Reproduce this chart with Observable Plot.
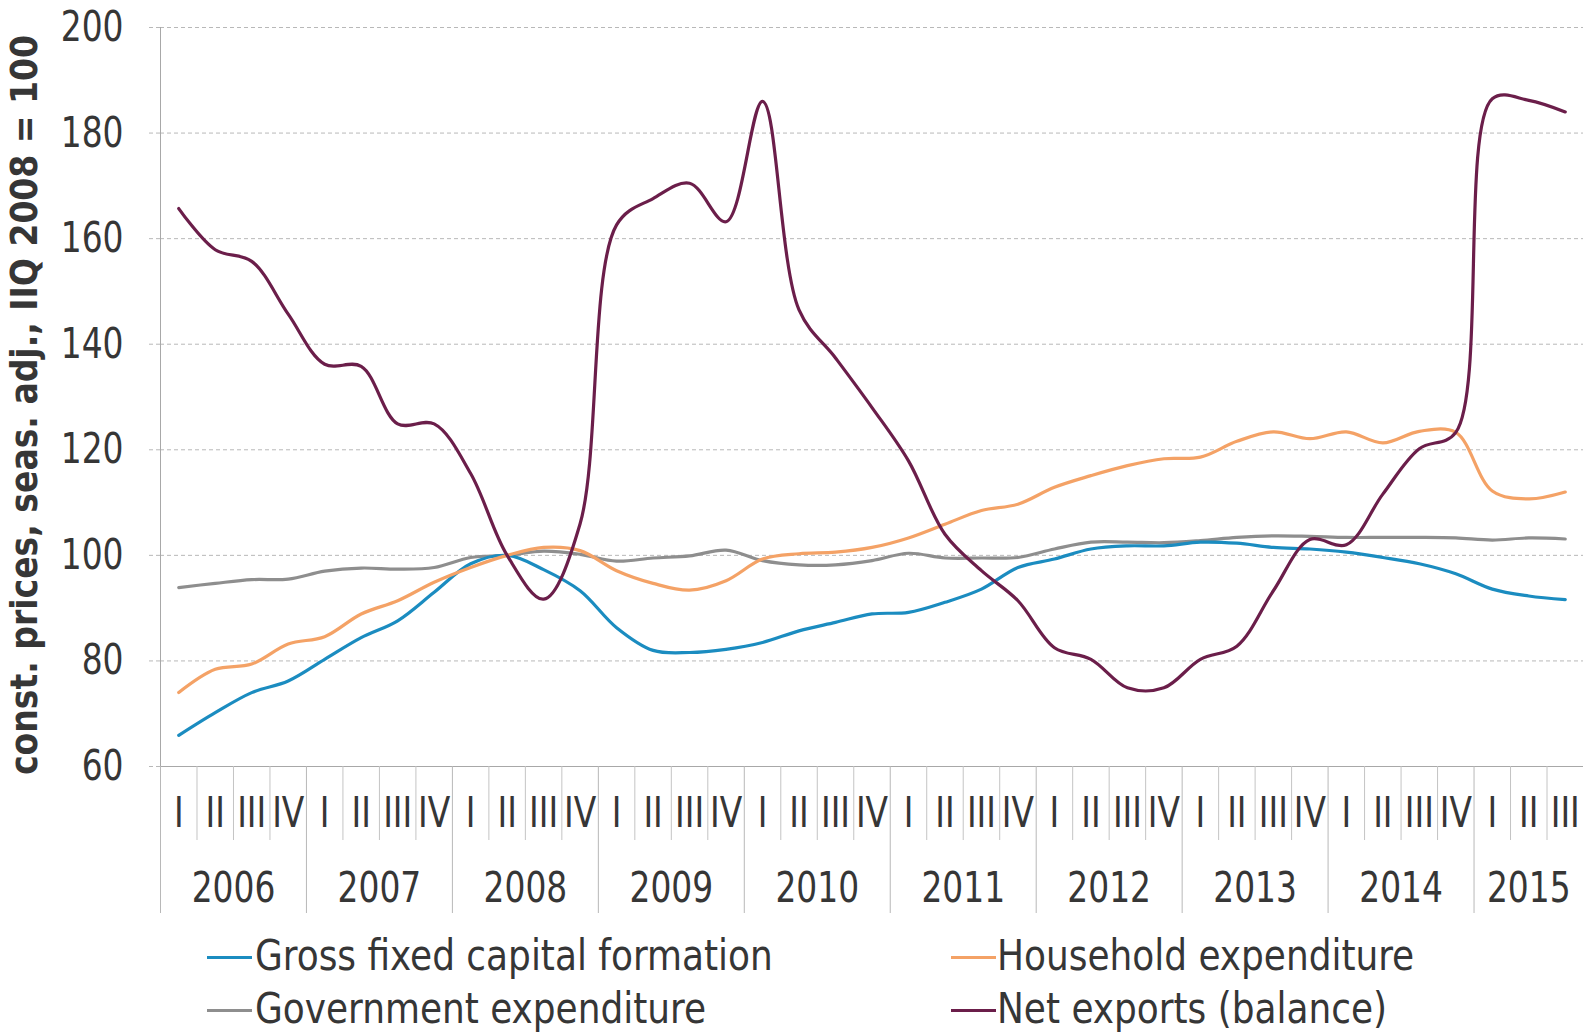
<!DOCTYPE html>
<html>
<head>
<meta charset="utf-8">
<script src="https://cdn.jsdelivr.net/npm/d3@7"></script>
<script src="https://cdn.jsdelivr.net/npm/@observablehq/plot@0.6"></script>
<style>
  html, body { margin: 0; padding: 0; background: #fff; }
  #wrap { position: relative; width: 1583px; height: 1033px; overflow: hidden;
          font-family: 'Liberation Sans Narrow', 'DejaVu Sans Condensed', 'Open Sans', sans-serif; color: #363636; }
  .leg { position: absolute; font-size: 42px; line-height: 1; white-space: nowrap; transform: scaleX(0.95); transform-origin: 0 50%; }
  .sw { position: absolute; height: 3px; width: 45px; }
</style>
</head>
<body>
<div id="wrap"></div>
<script>
const years = ["2006","2007","2008","2009","2010","2011","2012","2013","2014","2015"];
const quarterLabels = ["I","II","III","IV"];
const seriesNames = ["Gross fixed capital formation","Household expenditure","Government expenditure","Net exports (balance)"];
const seriesColors = ["#1b8cc0","#f4a266","#8e8e8e","#6b1e4a"];

// quarterly values, 2006 Q1 .. 2015 Q3 (39 quarters)
const gfcf = [65.9,70.2,74.0,76.2,80.3,84.4,87.6,93.0,98.4,100.0,97.3,93.3,86.3,82.0,81.6,82.2,83.5,85.7,87.3,88.9,89.2,91.1,93.6,97.7,99.3,101.2,101.8,101.8,102.5,102.3,101.5,101.2,100.6,99.6,98.4,96.5,93.6,92.3,91.6];
const household = [74.0,78.4,79.4,83.2,84.6,88.9,91.4,94.9,97.7,100.0,101.5,100.9,97.1,94.7,93.4,95.2,99.3,100.3,100.6,101.5,103.3,105.9,108.5,109.7,112.9,115.1,117.0,118.3,118.6,121.6,123.4,122.1,123.4,121.3,123.5,123.3,112.2,110.7,112.0];
const government = [93.9,94.7,95.4,95.5,97.0,97.6,97.4,97.7,99.6,100.0,100.8,100.2,98.9,99.5,99.9,101.0,99.0,98.2,98.2,99.0,100.4,99.5,99.5,99.6,101.2,102.5,102.5,102.4,102.8,103.4,103.7,103.6,103.4,103.4,103.4,103.3,102.9,103.3,103.1];
const netExports = [165.7,157.9,155.7,145.7,136.2,135.8,124.9,124.9,115.5,100.0,91.7,106.0,162.6,167.6,170.5,163.2,186.0,146.5,137.4,128.0,117.9,104.0,97.1,91.4,82.5,80.3,74.9,74.9,80.3,82.8,93.3,103.0,102.0,111.6,120.2,123.3,186.5,186.2,184.0];
const yTicks = [60,80,100,120,140,160,180,200];
const yLabel = "const. prices, seas. adj., IIQ 2008 = 100";

const allSeries = [gfcf, household, government, netExports];
const drawOrder = [2, 0, 1, 3];
const rows = [];
for (const s of drawOrder) allSeries[s].forEach((v, i) => rows.push({q: i, value: v, series: seriesNames[s]}));

const nQ = gfcf.length;
const qIdx = d3.range(nQ);
const yearBounds = years.map((y, k) => 4 * k - 0.5);
const qBounds = d3.range(nQ - 1).map(i => i + 0.5).filter(b => (b + 0.5) % 4 !== 0);
const yearCenters = years.map((y, k) => (4 * k - 0.5 + Math.min(4 * k + 3, nQ - 1) + 0.5) / 2);

const fontStack = "'Liberation Sans Narrow', 'DejaVu Sans Condensed', 'Open Sans', sans-serif";

const chart = Plot.plot({
  width: 1583,
  height: 930,
  marginLeft: 160,
  marginRight: 0,
  marginTop: 27,
  marginBottom: 164,
  style: {fontFamily: fontStack, fontSize: "42px", color: "#363636", background: "#fff", overflow: "visible"},
  x: {type: "linear", domain: [-0.5, nQ - 0.5]},
  y: {domain: [60, 200]},
  color: {domain: seriesNames, range: seriesColors},
  marks: [
    Plot.gridY(yTicks.slice(1), {stroke: "#b8b8b8", strokeOpacity: 1, strokeDasharray: "4,3"}),
    Plot.axisY({ticks: yTicks, tickSize: 12, tickPadding: 25, stroke: "#b8b8b8", strokeDasharray: "4,3", tickFormat: d => d, label: null, fontSize: 42}),
    Plot.ruleX([-0.5], {stroke: "#a8a8a8"}),
    Plot.ruleY([60], {stroke: "#a8a8a8"}),
    Plot.axisX({ticks: qBounds, tickSize: 74, tickFormat: () => "", stroke: "#c4c4c4", label: null}),
    Plot.axisX({ticks: yearBounds, tickSize: 147, tickFormat: () => "", stroke: "#b8b8b8", label: null}),
    Plot.axisX({ticks: qIdx, tickSize: 0, tickPadding: 31, tickFormat: i => quarterLabels[i % 4], label: null, fontSize: 42}),
    Plot.axisX({ticks: yearCenters, tickSize: 0, tickPadding: 106, tickFormat: (d) => years[yearCenters.indexOf(d)], label: null, fontSize: 42}),
    Plot.text([yLabel], {frameAnchor: "left", textAnchor: "middle", dx: -136, dy: 8, rotate: -90, fontWeight: "bold", fontSize: 38, fill: "#363636"}),
    Plot.line(rows, {x: "q", y: "value", z: "series", stroke: "series", strokeWidth: 3.2, curve: "catmull-rom"})
  ]
});

const wrap = document.getElementById("wrap");
wrap.appendChild(chart);

// condense the axis texts to the narrow look of the original typeface
for (const t of chart.querySelectorAll("text")) {
  const s = t.textContent;
  if (!s) continue;
  const len = t.getComputedTextLength();
  if (!len) continue;
  const target = s === yLabel ? 740 : len * 0.87;
  t.setAttribute("textLength", target);
  t.setAttribute("lengthAdjust", "spacingAndGlyphs");
}

const legendPos = [
  {s: 0, sx: 207, tx: 255, cy: 957},
  {s: 1, sx: 951, tx: 997, cy: 957},
  {s: 2, sx: 207, tx: 255, cy: 1010},
  {s: 3, sx: 951, tx: 997, cy: 1010}
];
for (const p of legendPos) {
  const sw = document.createElement("div");
  sw.className = "sw";
  sw.style.left = p.sx + "px";
  sw.style.top = (p.cy - 1) + "px";
  sw.style.background = seriesColors[p.s];
  wrap.appendChild(sw);
  const t = document.createElement("div");
  t.className = "leg";
  t.style.left = p.tx + "px";
  t.style.top = (p.cy - 22) + "px";
  t.textContent = seriesNames[p.s];
  wrap.appendChild(t);
}
</script>
</body>
</html>
